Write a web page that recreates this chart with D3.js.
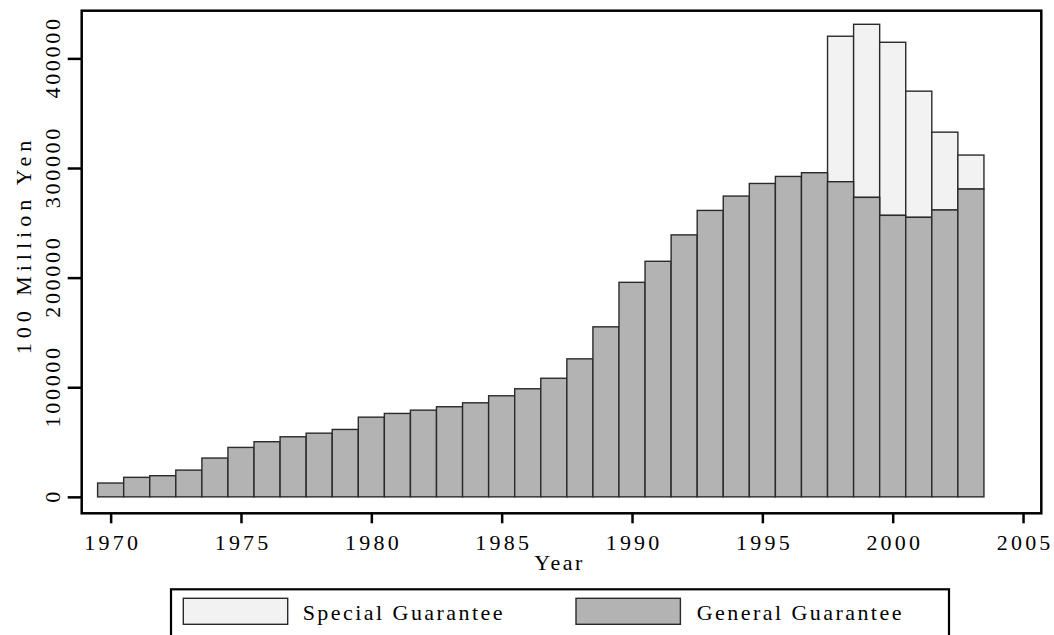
<!DOCTYPE html>
<html>
<head>
<meta charset="utf-8">
<script src="https://cdn.jsdelivr.net/npm/d3@7"></script>
<style>
  html, body { margin: 0; padding: 0; background: #fff; }
  svg { display: block; }
  text { font-family: "Liberation Serif", "Times New Roman", serif; fill: #000; }
</style>
</head>
<body>
<svg id="chart" width="1054" height="635"></svg>
<script>
// ---- Data ----
const years = [1970,1971,1972,1973,1974,1975,1976,1977,1978,1979,
               1980,1981,1982,1983,1984,1985,1986,1987,1988,1989,
               1990,1991,1992,1993,1994,1995,1996,1997,1998,1999,
               2000,2001,2002,2003];
const generalGuarantee = [12600,17800,19300,24400,35400,45100,50300,54800,58100,61500,
                          72700,76100,79100,82200,85800,92200,98600,108200,125900,155100,
                          195700,214900,239000,261300,274400,285900,292300,295700,287500,273200,
                          256800,255000,261700,280800];
const specialGuarantee = [0,0,0,0,0,0,0,0,0,0,
                          0,0,0,0,0,0,0,0,0,0,
                          0,0,0,0,0,0,0,0,132700,157900,
                          157900,115100,71000,31000];
const xTicks = [1970,1975,1980,1985,1990,1995,2000,2005];
const yTicks = [0,100000,200000,300000,400000];
const seriesNames = ["Special Guarantee", "General Guarantee"];

// ---- Layout ----
const svg = d3.select("#chart");
const L = 81.7, R = 1041.3, T = 10.7, B = 513.3;

const x = d3.scaleLinear().domain([1968.89, 2005.70]).range([L, R]);
const y = d3.scaleLinear().domain([-15000, 443500]).range([B, T]);

const colSpecial = "#f2f2f2", colGeneral = "#b3b3b3", barStroke = "#2a2a2a";
const FS = 22;

const rows = years.map((yr, i) => ({ yr, g: generalGuarantee[i], s: specialGuarantee[i] }));

// special (stacked on top of general)
svg.append("g").selectAll("rect").data(rows.filter(d => d.s > 0)).join("rect")
  .attr("x", d => x(d.yr - 0.5))
  .attr("width", d => x(d.yr + 0.5) - x(d.yr - 0.5))
  .attr("y", d => y(d.g + d.s))
  .attr("height", d => y(d.g) - y(d.g + d.s))
  .attr("fill", colSpecial).attr("stroke", barStroke).attr("stroke-width", 1.4);

// general
svg.append("g").selectAll("rect").data(rows).join("rect")
  .attr("x", d => x(d.yr - 0.5))
  .attr("width", d => x(d.yr + 0.5) - x(d.yr - 0.5))
  .attr("y", d => y(d.g))
  .attr("height", d => y(0) - y(d.g))
  .attr("fill", colGeneral).attr("stroke", barStroke).attr("stroke-width", 1.4);

// frame
svg.append("rect").attr("x", L).attr("y", T).attr("width", R - L).attr("height", B - T)
  .attr("fill", "none").attr("stroke", "#000").attr("stroke-width", 2.5);

// x axis
const xAxis = d3.axisBottom(x).tickValues(xTicks).tickSize(10).tickPadding(11).tickFormat(d3.format("d"));
const gx = svg.append("g").attr("transform", `translate(0,${B})`).call(xAxis);
gx.select(".domain").remove();
gx.selectAll(".tick line").attr("stroke", "#000").attr("stroke-width", 2.5);
gx.selectAll(".tick text").attr("font-size", FS).attr("letter-spacing", "3.2px")
  .attr("dx", "1.6px")
  .attr("font-family", "Liberation Serif, serif").attr("fill", "#000");

// y axis
const yAxis = d3.axisLeft(y).tickValues(yTicks).tickSize(14).tickPadding(0).tickFormat(d3.format("d"));
const gy = svg.append("g").attr("transform", `translate(${L},0)`).call(yAxis);
gy.select(".domain").remove();
gy.selectAll(".tick line").attr("stroke", "#000").attr("stroke-width", 2.5);
gy.selectAll(".tick text")
  .attr("x", null).attr("dy", null)
  .attr("transform", "translate(-22,0) rotate(-90)")
  .attr("text-anchor", "middle")
  .attr("dx", "1.4px")
  .attr("font-size", FS).attr("letter-spacing", "2.7px")
  .attr("font-family", "Liberation Serif, serif").attr("fill", "#000");

// axis titles
svg.append("text").attr("x", (L + R) / 2 - 2).attr("y", 570)
  .attr("text-anchor", "middle").attr("font-size", FS).attr("letter-spacing", "2.5px")
  .text("Year");
svg.append("text").attr("transform", `translate(31,245) rotate(-90)`)
  .attr("text-anchor", "middle").attr("font-size", FS).attr("letter-spacing", "5px")
  .text("100 Million Yen");

// legend
const lg = svg.append("g");
lg.append("rect").attr("x", 171).attr("y", 589.3).attr("width", 778).attr("height", 80)
  .attr("fill", "#fff").attr("stroke", "#000").attr("stroke-width", 2.2);
const legendItems = [
  { name: seriesNames[0], fill: colSpecial, sx: 183.3, tx: 302.7 },
  { name: seriesNames[1], fill: colGeneral, sx: 576, tx: 696.7 }
];
legendItems.forEach(it => {
  lg.append("rect").attr("x", it.sx).attr("y", 598.3).attr("width", 104.4).attr("height", 26)
    .attr("fill", it.fill).attr("stroke", barStroke).attr("stroke-width", 1.4);
  lg.append("text").attr("x", it.tx).attr("y", 620).attr("font-size", FS)
    .attr("letter-spacing", "2.45px").text(it.name);
});
</script>
</body>
</html>
